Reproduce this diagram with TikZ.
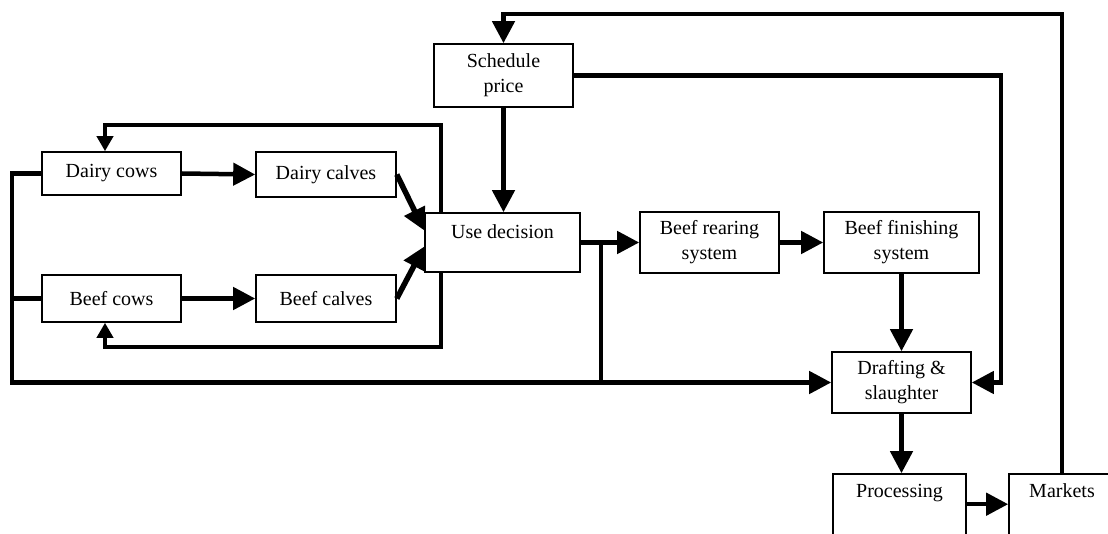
\documentclass[tikz,border=0pt]{standalone}
\usepackage{fontspec}
\setmainfont{Liberation Serif}
\usetikzlibrary{arrows.meta,backgrounds,calc}
\begin{document}
\begin{tikzpicture}[x=1pt,y=-1pt,
  Big/.tip={Triangle[length=22pt,width=22pt]},
  Small/.tip={Triangle[length=15pt,width=16pt]},
  box/.style={draw,line width=1.6pt,fill=white,inner sep=0pt,align=center,
    font=\fontsize{20}{25}\selectfont},
  conn/.style={line width=4.5pt},
  arr/.style={conn,-Big},
]
\useasboundingbox (0,0) rectangle (1108,534);
\clip (0,0) rectangle (1108,534);

% boxes
\node[box,minimum width=139pt,minimum height=43pt] (dcows) at (111.5,173.5) {Dairy cows};
\node[box,minimum width=140pt,minimum height=45pt] (dcalves) at (326,174.5) {Dairy calves};
\node[box,minimum width=139pt,minimum height=47pt] (bcows) at (111.5,298.5) {Beef cows};
\node[box,minimum width=140pt,minimum height=47pt] (bcalves) at (326,298.5) {Beef calves};
\node[box,minimum width=155pt,minimum height=59pt,text height=14pt,text depth=21pt] (use) at (502.5,242.5) {Use decision};
\node[box,minimum width=139pt,minimum height=63pt] (sched) at (503.5,75.5) {Schedule\\price};
\node[box,minimum width=139pt,minimum height=61pt] (rear) at (709.5,242.5) {Beef rearing\\system};
\node[box,minimum width=155pt,minimum height=61pt] (fin) at (901.5,242.5) {Beef finishing\\system};
\node[box,minimum width=139pt,minimum height=61pt] (draft) at (901.5,382.5) {Drafting \&\\slaughter};
\node[box,minimum width=133pt,minimum height=120pt,text height=14pt,text depth=87pt] (proc) at (899.5,534) {Processing};
\node[box,minimum width=106pt,minimum height=120pt,text height=14pt,text depth=87pt] (mark) at (1062,534) {Markets};

% helper coordinates
\coordinate (L) at (12,382.5);
\coordinate (B) at (601,242.5);
\coordinate (R) at (1001,75.5);
\coordinate (T) at (1062,14);
\coordinate (BrT) at (441,125);
\coordinate (BrB) at (441,347);

% feedback bracket behind "Use decision"
\begin{pgfonlayer}{background}
\draw[conn,Small-Small] ($(bcows.south)+(-6.5,0)$) |- (BrB) -- (BrT) -| ($(dcows.north)+(-6.5,0)$);
\end{pgfonlayer}

% connectors
\draw[arr] (dcows.east) -- (dcalves.west);
\draw[arr] (bcows) -- (bcalves);
\draw[arr,line width=5.5pt] (dcalves.east) -- ($(use.west)+(0,-12)$);
\draw[arr,line width=5.5pt] (bcalves.east) -- ($(use.west)+(0,4)$);

\draw[arr] (dcows.west) -| (L) -- (draft.west);
\draw[conn] (bcows.west) -- (bcows.west -| L);

\draw[arr] (use.east) -- (rear.west);
\draw[conn] (B) -- (B |- L);

\draw[arr] (rear) -- (fin);
\draw[arr] (fin) -- (draft);
\draw[arr] (sched.south) -- (sched.south |- use.north);
\draw[arr] (sched.east) -- (R) |- (draft.east);
\draw[arr] (draft.south) -- (draft.south |- proc.north);
\draw[arr] ($(proc.north east)+(0,31)$) -- ($(mark.north west)+(0,31)$);
\draw[arr] (mark.north) -- (T) -| (sched.north);
\end{tikzpicture}
\end{document}
